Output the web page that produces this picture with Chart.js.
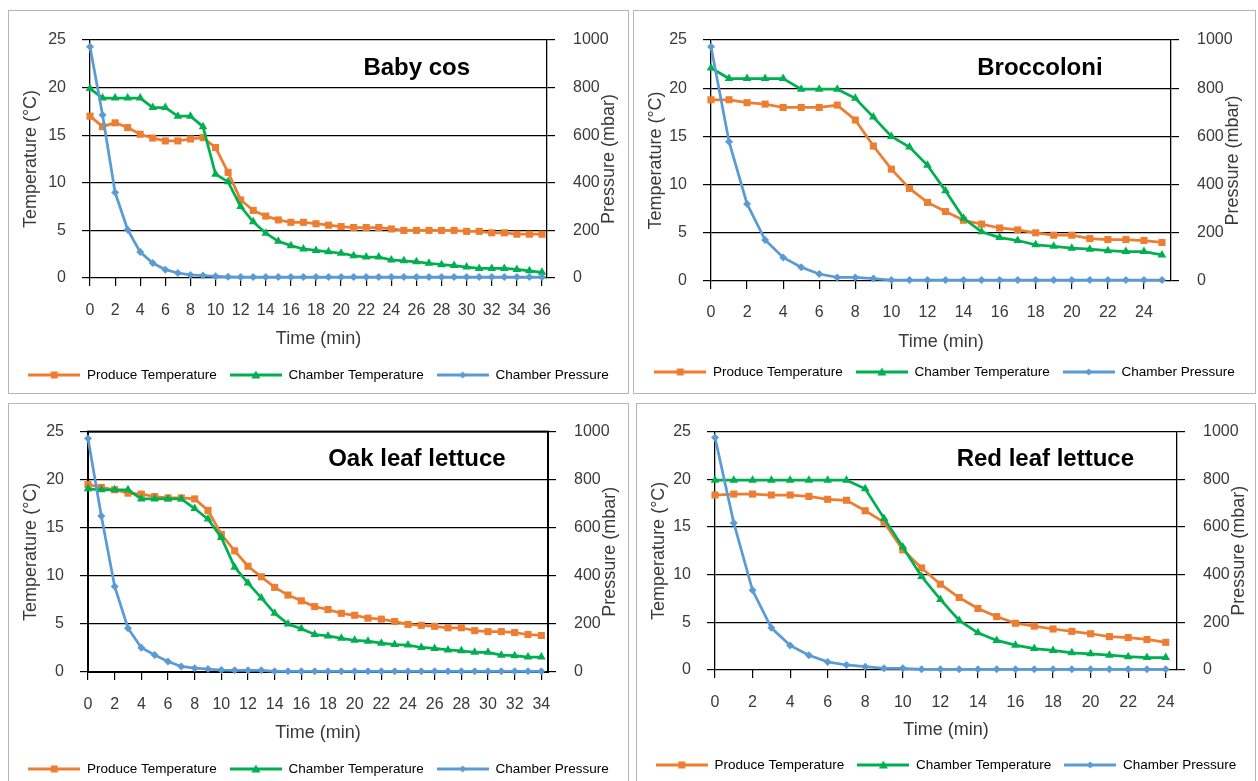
<!DOCTYPE html>
<html>
<head>
<meta charset="utf-8">
<script src="https://cdn.jsdelivr.net/npm/chart.js@4.4.1/dist/chart.umd.min.js"></script>
<style>
  body { margin: 0; background: #fff; width: 1258px; height: 781px; overflow: hidden; position: relative; }
  .panel { position: absolute; border: 1px solid #b5b5b5; box-sizing: border-box; background: #fff; }
  .panel canvas { display: block; }
</style>
</head>
<body>
<div class="panel" id="p1"><canvas id="c1"></canvas></div>
<div class="panel" id="p2"><canvas id="c2"></canvas></div>
<div class="panel" id="p3"><canvas id="c3"></canvas></div>
<div class="panel" id="p4"><canvas id="c4"></canvas></div>
<script>
// ---- data (time in min, temperatures in °C, pressure in mbar) ----
const babyCosTime = [0,1,2,3,4,5,6,7,8,9,10,11,12,13,14,15,16,17,18,19,20,21,22,23,24,25,26,27,28,29,30,31,32,33,34,35,36];
const babyCosProduce = [17.0,15.9,16.3,15.8,15.1,14.7,14.4,14.4,14.6,14.75,13.7,11.1,8.2,7.1,6.5,6.1,5.85,5.85,5.7,5.55,5.4,5.3,5.3,5.3,5.15,5.0,5.0,5.0,5.0,5.0,4.9,4.9,4.75,4.75,4.6,4.6,4.6];
const babyCosChamber = [19.9,18.9,18.9,18.9,18.9,17.9,17.9,17.0,17.0,15.9,10.9,10.1,7.5,5.9,4.7,3.85,3.4,3.05,2.9,2.75,2.6,2.35,2.2,2.2,1.9,1.8,1.7,1.55,1.4,1.3,1.15,1.0,1.0,1.0,0.9,0.75,0.6];
const babyCosPressure = [972,685,359,203,109,63,35,21,13,10,7,5,4,4,4,4,4,4,4,4,4,4,4,4,4,4,4,4,4,4,4,4,4,4,4,4,4];

const broccoloniTime = [0,1,2,3,4,5,6,7,8,9,10,11,12,13,14,15,16,17,18,19,20,21,22,23,24,25];
const broccoloniProduce = [18.8,18.8,18.5,18.35,18.0,18.0,18.0,18.25,16.7,14.0,11.6,9.6,8.15,7.2,6.3,5.9,5.5,5.3,5.0,4.75,4.75,4.4,4.3,4.3,4.2,4.0];
const broccoloniChamber = [22.1,21.0,21.0,21.0,21.0,19.9,19.9,19.9,18.95,17.0,15.0,13.9,12.0,9.35,6.5,5.1,4.5,4.2,3.75,3.6,3.4,3.3,3.15,3.05,3.05,2.7];
const broccoloniPressure = [972,578,320,170,98,57,29,15,15,10,4,4,4,4,4,4,4,4,4,4,4,4,4,4,4,4];

const oakTime = [0,1,2,3,4,5,6,7,8,9,10,11,12,13,14,15,16,17,18,19,20,21,22,23,24,25,26,27,28,29,30,31,32,33,34];
const oakProduce = [19.5,19.2,18.95,18.6,18.5,18.25,18.1,18.1,18.0,16.8,14.3,12.6,11.0,9.9,8.8,8.0,7.4,6.8,6.5,6.1,5.9,5.6,5.5,5.25,4.95,4.85,4.75,4.6,4.6,4.3,4.2,4.2,4.1,3.9,3.8];
const oakChamber = [19.05,18.95,18.95,18.95,18.0,18.0,18.0,18.0,17.0,15.9,14.0,10.9,9.25,7.7,6.1,5.0,4.5,3.9,3.75,3.5,3.3,3.2,3.0,2.85,2.8,2.55,2.45,2.3,2.2,2.05,2.05,1.75,1.7,1.55,1.55];
const oakPressure = [971,649,356,182,101,71,44,23,16,12,8,7,7,7,3,3,3,3,3,3,3,3,3,3,3,3,3,3,3,3,3,3,3,3,3];

const redTime = [0,1,2,3,4,5,6,7,8,9,10,11,12,13,14,15,16,17,18,19,20,21,22,23,24];
const redProduce = [18.35,18.45,18.45,18.35,18.35,18.2,17.9,17.8,16.7,15.5,12.6,10.7,9.0,7.6,6.45,5.6,4.9,4.6,4.3,4.05,3.8,3.5,3.4,3.2,2.9];
const redChamber = [19.9,19.9,19.9,19.9,19.9,19.9,19.9,19.9,19.0,15.9,12.9,9.8,7.4,5.2,3.9,3.1,2.6,2.25,2.05,1.8,1.7,1.55,1.4,1.3,1.3];
const redPressure = [975,617,334,177,103,62,34,21,14,7,7,3,3,3,3,3,3,3,3,3,3,3,3,3,3];

const seriesNames = ['Produce Temperature', 'Chamber Temperature', 'Chamber Pressure'];

const ORANGE = '#ED7D31';
const GREEN = '#00B050';
const BLUE = '#5B9BD5';
const TEXT = '#3a3a3a';

const TICK_FONT = 16;
const AXIS_FONT = 18;
const LEG_FONT = 13.5;
const LEG_PAD = 13;
const TICK_LEN = 8;

Chart.defaults.font.family = '"Liberation Sans", Arial, sans-serif';
Chart.defaults.color = TEXT;

// panel layout: frame = [left, top, width, height] of the bordered box,
// plot = [left, right, top, bottom] of the plot area, all in page pixels
const panels = [
  { id: 'p1', canvas: 'c1', title: 'Baby cos', time: babyCosTime, produce: babyCosProduce, chamber: babyCosChamber, pressure: babyCosPressure,
    xMax: 36.4, frame: [8, 10, 621, 384], plot: [90, 547, 40, 278], xLab: 311, xTitle: 339, legendY: 375, box: false },
  { id: 'p2', canvas: 'c2', title: 'Broccoloni', time: broccoloniTime, produce: broccoloniProduce, chamber: broccoloniChamber, pressure: broccoloniPressure,
    xMax: 25.5, frame: [633, 10, 623, 384], plot: [711, 1171, 40, 281], xLab: 313, xTitle: 342, legendY: 372, box: false },
  { id: 'p3', canvas: 'c3', title: 'Oak leaf lettuce', time: oakTime, produce: oakProduce, chamber: oakChamber, pressure: oakPressure,
    xMax: 34.5, frame: [8, 403, 621, 400], plot: [88, 548, 427, 672], xLab: 705, xTitle: 733, legendY: 769, box: true },
  { id: 'p4', canvas: 'c4', title: 'Red leaf lettuce', time: redTime, produce: redProduce, chamber: redChamber, pressure: redPressure,
    xMax: 24.6, frame: [636, 403, 620, 400], plot: [715, 1177, 428, 670], xLab: 703, xTitle: 730, legendY: 765, box: false }
];

// little "line + marker" picture used as legend symbol
function legendMark(color, shape) {
  const c = document.createElement('canvas');
  c.width = 52; c.height = 12;
  const g = c.getContext('2d');
  g.strokeStyle = color; g.lineWidth = 3;
  g.beginPath(); g.moveTo(0, 6); g.lineTo(52, 6); g.stroke();
  g.fillStyle = color;
  g.beginPath();
  if (shape === 'rect') {
    g.rect(22.5, 2.5, 7, 7);
  } else if (shape === 'triangle') {
    g.moveTo(26, 1.5); g.lineTo(30.5, 9.5); g.lineTo(21.5, 9.5); g.closePath();
  } else {
    g.moveTo(26, 2.5); g.lineTo(29.5, 6); g.lineTo(26, 9.5); g.lineTo(22.5, 6); g.closePath();
  }
  g.fill();
  return c;
}
const legendMarks = [legendMark(ORANGE, 'rect'), legendMark(GREEN, 'triangle'), legendMark(BLUE, 'rectRot')];

// panel title inside the plot, right axis title (reads bottom-to-top) and optional plot box
const panelText = {
  id: 'panelText',
  beforeDatasetsDraw(chart, args, opts) {
    if (!opts.box) return;
    const a = chart.chartArea, ctx = chart.ctx;
    ctx.save();
    ctx.strokeStyle = '#000';
    ctx.lineWidth = 2;
    ctx.strokeRect(a.left, a.top, a.right - a.left, a.bottom - a.top);
    ctx.restore();
  },
  afterDraw(chart, args, opts) {
    const a = chart.chartArea, ctx = chart.ctx;
    ctx.save();
    ctx.fillStyle = '#000';
    ctx.font = 'bold 24px "Liberation Sans", Arial, sans-serif';
    ctx.textAlign = 'center';
    ctx.textBaseline = 'middle';
    ctx.fillText(opts.title, a.left + (a.right - a.left) * 0.715, a.top + 28);
    ctx.fillStyle = TEXT;
    ctx.font = AXIS_FONT + 'px "Liberation Sans", Arial, sans-serif';
    ctx.translate(a.right + 62, (a.top + a.bottom) / 2);
    ctx.rotate(-Math.PI / 2);
    ctx.fillText('Pressure (mbar)', 0, 0);
    ctx.restore();
  }
};

function buildChart(p) {
  const div = document.getElementById(p.id);
  const [fx, fy, fw, fh] = p.frame;
  div.style.left = fx + 'px';
  div.style.top = fy + 'px';
  div.style.width = fw + 'px';
  div.style.height = fh + 'px';
  const canvas = document.getElementById(p.canvas);
  const W = fw - 2, H = fh - 2;
  canvas.width = W; canvas.height = H;
  canvas.style.width = W + 'px'; canvas.style.height = H + 'px';
  const ox = fx + 1, oy = fy + 1;

  const L = p.plot[0] - ox, R = p.plot[1] - ox, T = p.plot[2] - oy, B = p.plot[3] - oy;
  const legTop = (p.legendY - oy) - LEG_PAD - LEG_FONT / 2;
  const legH = LEG_FONT + LEG_PAD + 10;
  const xH = legTop - B;
  const xTickPad = (p.xLab - oy) - B - TICK_LEN - TICK_FONT * 0.6;
  const xTitlePad = legTop - (p.xTitle - oy) - AXIS_FONT * 0.6;
  const yTitlePad = 22 - AXIS_FONT * 0.6;

  new Chart(canvas, {
    type: 'line',
    data: {
      labels: p.time,
      datasets: [
        { label: seriesNames[0], data: p.produce, yAxisID: 'y', borderColor: ORANGE, backgroundColor: ORANGE,
          borderWidth: 2.75, pointStyle: 'rect', pointRadius: 5, pointBorderWidth: 0, tension: 0, clip: false, order: 3 },
        { label: seriesNames[1], data: p.chamber, yAxisID: 'y', borderColor: GREEN, backgroundColor: GREEN,
          borderWidth: 2.75, pointStyle: 'triangle', pointRadius: 5, pointBorderWidth: 0, tension: 0, clip: false, order: 2 },
        { label: seriesNames[2], data: p.pressure, yAxisID: 'y1', borderColor: BLUE, backgroundColor: BLUE,
          borderWidth: 2.75, pointStyle: 'rectRot', pointRadius: 4, pointBorderWidth: 0, tension: 0, clip: false, order: 1 }
      ]
    },
    options: {
      responsive: false,
      animation: false,
      devicePixelRatio: 1,
      layout: { padding: { top: T, left: 0, right: 0, bottom: H - legTop - legH } },
      plugins: {
        tooltip: { enabled: false },
        panelText: { title: p.title, box: p.box },
        legend: {
          position: 'bottom',
          labels: {
            font: { size: LEG_FONT },
            color: TEXT,
            padding: LEG_PAD,
            usePointStyle: true,
            pointStyleWidth: 52,
            generateLabels: () => seriesNames.map((name, i) => ({
              text: name, pointStyle: legendMarks[i], datasetIndex: i,
              fillStyle: 'transparent', strokeStyle: 'transparent', lineWidth: 0, hidden: false
            }))
          }
        }
      },
      scales: {
        x: {
          type: 'linear',
          min: 0,
          max: p.xMax,
          afterFit: s => { s.height = xH; },
          ticks: { stepSize: 2, includeBounds: false, autoSkip: false, maxRotation: 0, font: { size: TICK_FONT }, color: TEXT, padding: xTickPad },
          grid: { drawOnChartArea: false, drawTicks: true, tickLength: TICK_LEN, color: '#000', lineWidth: 1.2 },
          border: { display: false },
          title: { display: true, text: 'Time (min)', font: { size: AXIS_FONT }, color: TEXT, padding: { top: 0, bottom: xTitlePad } }
        },
        y: {
          position: 'left',
          min: 0,
          max: 25,
          afterFit: s => { s.width = L; },
          ticks: { stepSize: 5, font: { size: TICK_FONT }, color: TEXT, padding: 16 },
          grid: { color: '#000', lineWidth: 1.2, tickLength: TICK_LEN },
          border: { display: true, color: '#000', width: 1.3 },
          title: { display: true, text: 'Temperature (°C)', font: { size: AXIS_FONT }, color: TEXT, padding: { top: yTitlePad, bottom: 0 } }
        },
        y1: {
          position: 'right',
          min: 0,
          max: 1000,
          afterFit: s => { s.width = W - R; },
          ticks: { stepSize: 200, font: { size: TICK_FONT }, color: TEXT, padding: 18, callback: v => String(v) },
          grid: { drawOnChartArea: false, color: '#000', lineWidth: 1.2, tickLength: TICK_LEN },
          border: { display: true, color: '#000', width: 1.3 }
        }
      }
    },
    plugins: [panelText]
  });
}

panels.forEach(buildChart);
</script>
</body>
</html>
